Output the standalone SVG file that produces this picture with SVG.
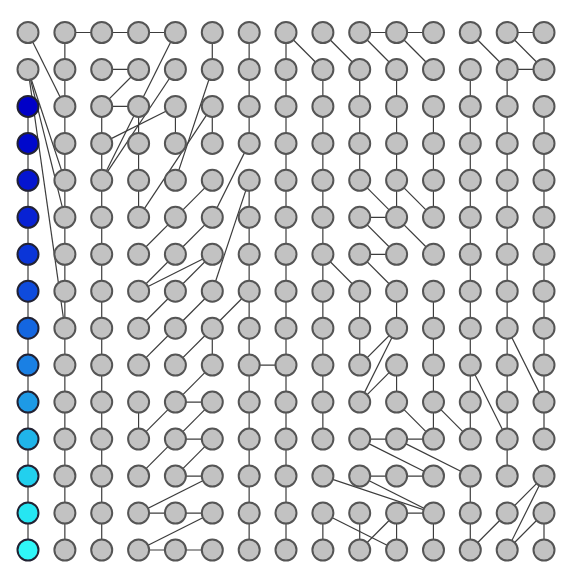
<svg xmlns="http://www.w3.org/2000/svg" width="564" height="569" viewBox="0 0 564 569">
<style>
.n circle{fill:#c2c2c2;stroke:#555;stroke-width:2}
#connectors line{stroke:#3c3c3c;stroke-width:1.2;vector-effect:non-scaling-stroke}
</style>
<rect width="564" height="569" fill="#fff"/>
<g id="connectors" transform="translate(28,32.5) scale(36.857,36.964)">
<line x1="0" y1="2" x2="0" y2="14"/>
<line x1="1" y1="0" x2="1" y2="14"/>
<line x1="2" y1="2" x2="2" y2="14"/>
<line x1="3" y1="2" x2="3" y2="5"/>
<line x1="3" y1="10" x2="3" y2="11"/>
<line x1="4" y1="2" x2="4" y2="3"/>
<line x1="5" y1="0" x2="5" y2="1"/>
<line x1="5" y1="2" x2="5" y2="3"/>
<line x1="5" y1="8" x2="5" y2="9"/>
<line x1="6" y1="0" x2="6" y2="3"/>
<line x1="6" y1="4" x2="6" y2="14"/>
<line x1="7" y1="0" x2="7" y2="14"/>
<line x1="8" y1="1" x2="8" y2="11"/>
<line x1="8" y1="13" x2="8" y2="14"/>
<line x1="9" y1="1" x2="9" y2="4"/>
<line x1="9" y1="7" x2="9" y2="9"/>
<line x1="9" y1="13" x2="9" y2="14"/>
<line x1="10" y1="1" x2="10" y2="5"/>
<line x1="10" y1="7" x2="10" y2="8"/>
<line x1="10" y1="9" x2="10" y2="10"/>
<line x1="10" y1="13" x2="10" y2="14"/>
<line x1="11" y1="2" x2="11" y2="5"/>
<line x1="11" y1="7" x2="11" y2="11"/>
<line x1="11" y1="13" x2="11" y2="14"/>
<line x1="12" y1="1" x2="12" y2="11"/>
<line x1="12" y1="12" x2="12" y2="14"/>
<line x1="13" y1="1" x2="13" y2="12"/>
<line x1="14" y1="2" x2="14" y2="11"/>
<line x1="14" y1="13" x2="14" y2="14"/>
<line x1="1" y1="0" x2="4" y2="0"/>
<line x1="9" y1="0" x2="11" y2="0"/>
<line x1="13" y1="0" x2="14" y2="0"/>
<line x1="2" y1="1" x2="3" y2="1"/>
<line x1="13" y1="1" x2="14" y2="1"/>
<line x1="2" y1="2" x2="3" y2="2"/>
<line x1="9" y1="5" x2="10" y2="5"/>
<line x1="9" y1="6" x2="10" y2="6"/>
<line x1="6" y1="9" x2="7" y2="9"/>
<line x1="4" y1="10" x2="5" y2="10"/>
<line x1="4" y1="11" x2="5" y2="11"/>
<line x1="9" y1="11" x2="11" y2="11"/>
<line x1="4" y1="12" x2="5" y2="12"/>
<line x1="9" y1="12" x2="11" y2="12"/>
<line x1="3" y1="13" x2="5" y2="13"/>
<line x1="10" y1="13" x2="11" y2="13"/>
<line x1="3" y1="14" x2="5" y2="14"/>
<line x1="0" y1="0" x2="1" y2="2"/>
<line x1="0" y1="1" x2="1" y2="4"/>
<line x1="0" y1="1" x2="1" y2="5"/>
<line x1="0" y1="1" x2="1" y2="8"/>
<line x1="3" y1="1" x2="2" y2="2"/>
<line x1="4" y1="0" x2="3" y2="2"/>
<line x1="4" y1="1" x2="2" y2="4"/>
<line x1="3" y1="2" x2="2" y2="4"/>
<line x1="4" y1="2" x2="2" y2="3"/>
<line x1="5" y1="1" x2="4" y2="4"/>
<line x1="5" y1="2" x2="3" y2="5"/>
<line x1="7" y1="0" x2="8" y2="1"/>
<line x1="8" y1="0" x2="9" y2="1"/>
<line x1="9" y1="0" x2="10" y2="1"/>
<line x1="10" y1="0" x2="11" y2="1"/>
<line x1="12" y1="0" x2="13" y2="1"/>
<line x1="13" y1="0" x2="14" y2="1"/>
<line x1="9" y1="4" x2="10" y2="5"/>
<line x1="9" y1="5" x2="10" y2="6"/>
<line x1="9" y1="6" x2="10" y2="7"/>
<line x1="10" y1="4" x2="11" y2="5"/>
<line x1="10" y1="5" x2="11" y2="6"/>
<line x1="8" y1="6" x2="9" y2="7"/>
<line x1="10" y1="8" x2="9" y2="9"/>
<line x1="10" y1="8" x2="9" y2="10"/>
<line x1="10" y1="9" x2="9" y2="10"/>
<line x1="10" y1="10" x2="11" y2="11"/>
<line x1="11" y1="10" x2="12" y2="11"/>
<line x1="12" y1="9" x2="13" y2="11"/>
<line x1="13" y1="8" x2="14" y2="10"/>
<line x1="9" y1="11" x2="11" y2="12"/>
<line x1="10" y1="11" x2="12" y2="12"/>
<line x1="9" y1="12" x2="11" y2="13"/>
<line x1="8" y1="12" x2="11" y2="13"/>
<line x1="8" y1="13" x2="10" y2="14"/>
<line x1="10" y1="13" x2="9" y2="14"/>
<line x1="12" y1="14" x2="13" y2="13"/>
<line x1="13" y1="13" x2="14" y2="12"/>
<line x1="13" y1="14" x2="14" y2="12"/>
<line x1="13" y1="14" x2="14" y2="13"/>
<line x1="3" y1="12" x2="4" y2="11"/>
<line x1="4" y1="12" x2="5" y2="11"/>
<line x1="3" y1="13" x2="5" y2="12"/>
<line x1="3" y1="14" x2="5" y2="13"/>
<line x1="3" y1="11" x2="4" y2="10"/>
<line x1="4" y1="11" x2="5" y2="10"/>
<line x1="4" y1="10" x2="5" y2="9"/>
<line x1="4" y1="9" x2="5" y2="8"/>
<line x1="4" y1="8" x2="5" y2="7"/>
<line x1="6" y1="7" x2="5" y2="8"/>
<line x1="3" y1="8" x2="4" y2="7"/>
<line x1="3" y1="9" x2="4" y2="8"/>
<line x1="3" y1="6" x2="4" y2="5"/>
<line x1="3" y1="7" x2="4" y2="6"/>
<line x1="6" y1="3" x2="5" y2="5"/>
<line x1="6" y1="4" x2="5" y2="7"/>
<line x1="5" y1="4" x2="4" y2="5"/>
<line x1="5" y1="5" x2="4" y2="6"/>
<line x1="5" y1="6" x2="4" y2="7"/>
<line x1="3" y1="7" x2="5" y2="6"/>
</g>
<g class="n">
<g id="r0c0"><circle cx="28" cy="32.5" r="10.5"/></g>
<g id="r0c1"><circle cx="64.9" cy="32.5" r="10.5"/></g>
<g id="r0c2"><circle cx="101.7" cy="32.5" r="10.5"/></g>
<g id="r0c3"><circle cx="138.6" cy="32.5" r="10.5"/></g>
<g id="r0c4"><circle cx="175.4" cy="32.5" r="10.5"/></g>
<g id="r0c5"><circle cx="212.3" cy="32.5" r="10.5"/></g>
<g id="r0c6"><circle cx="249.2" cy="32.5" r="10.5"/></g>
<g id="r0c7"><circle cx="286" cy="32.5" r="10.5"/></g>
<g id="r0c8"><circle cx="322.9" cy="32.5" r="10.5"/></g>
<g id="r0c9"><circle cx="359.7" cy="32.5" r="10.5"/></g>
<g id="r0c10"><circle cx="396.6" cy="32.5" r="10.5"/></g>
<g id="r0c11"><circle cx="433.5" cy="32.5" r="10.5"/></g>
<g id="r0c12"><circle cx="470.3" cy="32.5" r="10.5"/></g>
<g id="r0c13"><circle cx="507.2" cy="32.5" r="10.5"/></g>
<g id="r0c14"><circle cx="544" cy="32.5" r="10.5"/></g>
<g id="r1c0"><circle cx="28" cy="69.5" r="10.5"/></g>
<g id="r1c1"><circle cx="64.9" cy="69.5" r="10.5"/></g>
<g id="r1c2"><circle cx="101.7" cy="69.5" r="10.5"/></g>
<g id="r1c3"><circle cx="138.6" cy="69.5" r="10.5"/></g>
<g id="r1c4"><circle cx="175.4" cy="69.5" r="10.5"/></g>
<g id="r1c5"><circle cx="212.3" cy="69.5" r="10.5"/></g>
<g id="r1c6"><circle cx="249.2" cy="69.5" r="10.5"/></g>
<g id="r1c7"><circle cx="286" cy="69.5" r="10.5"/></g>
<g id="r1c8"><circle cx="322.9" cy="69.5" r="10.5"/></g>
<g id="r1c9"><circle cx="359.7" cy="69.5" r="10.5"/></g>
<g id="r1c10"><circle cx="396.6" cy="69.5" r="10.5"/></g>
<g id="r1c11"><circle cx="433.5" cy="69.5" r="10.5"/></g>
<g id="r1c12"><circle cx="470.3" cy="69.5" r="10.5"/></g>
<g id="r1c13"><circle cx="507.2" cy="69.5" r="10.5"/></g>
<g id="r1c14"><circle cx="544" cy="69.5" r="10.5"/></g>
<g id="r2c0"><circle cx="28" cy="106.4" r="10.5" style="fill:#0000c8;stroke:#223"/></g>
<g id="r2c1"><circle cx="64.9" cy="106.4" r="10.5"/></g>
<g id="r2c2"><circle cx="101.7" cy="106.4" r="10.5"/></g>
<g id="r2c3"><circle cx="138.6" cy="106.4" r="10.5"/></g>
<g id="r2c4"><circle cx="175.4" cy="106.4" r="10.5"/></g>
<g id="r2c5"><circle cx="212.3" cy="106.4" r="10.5"/></g>
<g id="r2c6"><circle cx="249.2" cy="106.4" r="10.5"/></g>
<g id="r2c7"><circle cx="286" cy="106.4" r="10.5"/></g>
<g id="r2c8"><circle cx="322.9" cy="106.4" r="10.5"/></g>
<g id="r2c9"><circle cx="359.7" cy="106.4" r="10.5"/></g>
<g id="r2c10"><circle cx="396.6" cy="106.4" r="10.5"/></g>
<g id="r2c11"><circle cx="433.5" cy="106.4" r="10.5"/></g>
<g id="r2c12"><circle cx="470.3" cy="106.4" r="10.5"/></g>
<g id="r2c13"><circle cx="507.2" cy="106.4" r="10.5"/></g>
<g id="r2c14"><circle cx="544" cy="106.4" r="10.5"/></g>
<g id="r3c0"><circle cx="28" cy="143.4" r="10.5" style="fill:#0008cc;stroke:#223"/></g>
<g id="r3c1"><circle cx="64.9" cy="143.4" r="10.5"/></g>
<g id="r3c2"><circle cx="101.7" cy="143.4" r="10.5"/></g>
<g id="r3c3"><circle cx="138.6" cy="143.4" r="10.5"/></g>
<g id="r3c4"><circle cx="175.4" cy="143.4" r="10.5"/></g>
<g id="r3c5"><circle cx="212.3" cy="143.4" r="10.5"/></g>
<g id="r3c6"><circle cx="249.2" cy="143.4" r="10.5"/></g>
<g id="r3c7"><circle cx="286" cy="143.4" r="10.5"/></g>
<g id="r3c8"><circle cx="322.9" cy="143.4" r="10.5"/></g>
<g id="r3c9"><circle cx="359.7" cy="143.4" r="10.5"/></g>
<g id="r3c10"><circle cx="396.6" cy="143.4" r="10.5"/></g>
<g id="r3c11"><circle cx="433.5" cy="143.4" r="10.5"/></g>
<g id="r3c12"><circle cx="470.3" cy="143.4" r="10.5"/></g>
<g id="r3c13"><circle cx="507.2" cy="143.4" r="10.5"/></g>
<g id="r3c14"><circle cx="544" cy="143.4" r="10.5"/></g>
<g id="r4c0"><circle cx="28" cy="180.3" r="10.5" style="fill:#0515d0;stroke:#223"/></g>
<g id="r4c1"><circle cx="64.9" cy="180.3" r="10.5"/></g>
<g id="r4c2"><circle cx="101.7" cy="180.3" r="10.5"/></g>
<g id="r4c3"><circle cx="138.6" cy="180.3" r="10.5"/></g>
<g id="r4c4"><circle cx="175.4" cy="180.3" r="10.5"/></g>
<g id="r4c5"><circle cx="212.3" cy="180.3" r="10.5"/></g>
<g id="r4c6"><circle cx="249.2" cy="180.3" r="10.5"/></g>
<g id="r4c7"><circle cx="286" cy="180.3" r="10.5"/></g>
<g id="r4c8"><circle cx="322.9" cy="180.3" r="10.5"/></g>
<g id="r4c9"><circle cx="359.7" cy="180.3" r="10.5"/></g>
<g id="r4c10"><circle cx="396.6" cy="180.3" r="10.5"/></g>
<g id="r4c11"><circle cx="433.5" cy="180.3" r="10.5"/></g>
<g id="r4c12"><circle cx="470.3" cy="180.3" r="10.5"/></g>
<g id="r4c13"><circle cx="507.2" cy="180.3" r="10.5"/></g>
<g id="r4c14"><circle cx="544" cy="180.3" r="10.5"/></g>
<g id="r5c0"><circle cx="28" cy="217.3" r="10.5" style="fill:#0822d4;stroke:#223"/></g>
<g id="r5c1"><circle cx="64.9" cy="217.3" r="10.5"/></g>
<g id="r5c2"><circle cx="101.7" cy="217.3" r="10.5"/></g>
<g id="r5c3"><circle cx="138.6" cy="217.3" r="10.5"/></g>
<g id="r5c4"><circle cx="175.4" cy="217.3" r="10.5"/></g>
<g id="r5c5"><circle cx="212.3" cy="217.3" r="10.5"/></g>
<g id="r5c6"><circle cx="249.2" cy="217.3" r="10.5"/></g>
<g id="r5c7"><circle cx="286" cy="217.3" r="10.5"/></g>
<g id="r5c8"><circle cx="322.9" cy="217.3" r="10.5"/></g>
<g id="r5c9"><circle cx="359.7" cy="217.3" r="10.5"/></g>
<g id="r5c10"><circle cx="396.6" cy="217.3" r="10.5"/></g>
<g id="r5c11"><circle cx="433.5" cy="217.3" r="10.5"/></g>
<g id="r5c12"><circle cx="470.3" cy="217.3" r="10.5"/></g>
<g id="r5c13"><circle cx="507.2" cy="217.3" r="10.5"/></g>
<g id="r5c14"><circle cx="544" cy="217.3" r="10.5"/></g>
<g id="r6c0"><circle cx="28" cy="254.3" r="10.5" style="fill:#0a35d8;stroke:#223"/></g>
<g id="r6c1"><circle cx="64.9" cy="254.3" r="10.5"/></g>
<g id="r6c2"><circle cx="101.7" cy="254.3" r="10.5"/></g>
<g id="r6c3"><circle cx="138.6" cy="254.3" r="10.5"/></g>
<g id="r6c4"><circle cx="175.4" cy="254.3" r="10.5"/></g>
<g id="r6c5"><circle cx="212.3" cy="254.3" r="10.5"/></g>
<g id="r6c6"><circle cx="249.2" cy="254.3" r="10.5"/></g>
<g id="r6c7"><circle cx="286" cy="254.3" r="10.5"/></g>
<g id="r6c8"><circle cx="322.9" cy="254.3" r="10.5"/></g>
<g id="r6c9"><circle cx="359.7" cy="254.3" r="10.5"/></g>
<g id="r6c10"><circle cx="396.6" cy="254.3" r="10.5"/></g>
<g id="r6c11"><circle cx="433.5" cy="254.3" r="10.5"/></g>
<g id="r6c12"><circle cx="470.3" cy="254.3" r="10.5"/></g>
<g id="r6c13"><circle cx="507.2" cy="254.3" r="10.5"/></g>
<g id="r6c14"><circle cx="544" cy="254.3" r="10.5"/></g>
<g id="r7c0"><circle cx="28" cy="291.2" r="10.5" style="fill:#0f4bdc;stroke:#223"/></g>
<g id="r7c1"><circle cx="64.9" cy="291.2" r="10.5"/></g>
<g id="r7c2"><circle cx="101.7" cy="291.2" r="10.5"/></g>
<g id="r7c3"><circle cx="138.6" cy="291.2" r="10.5"/></g>
<g id="r7c4"><circle cx="175.4" cy="291.2" r="10.5"/></g>
<g id="r7c5"><circle cx="212.3" cy="291.2" r="10.5"/></g>
<g id="r7c6"><circle cx="249.2" cy="291.2" r="10.5"/></g>
<g id="r7c7"><circle cx="286" cy="291.2" r="10.5"/></g>
<g id="r7c8"><circle cx="322.9" cy="291.2" r="10.5"/></g>
<g id="r7c9"><circle cx="359.7" cy="291.2" r="10.5"/></g>
<g id="r7c10"><circle cx="396.6" cy="291.2" r="10.5"/></g>
<g id="r7c11"><circle cx="433.5" cy="291.2" r="10.5"/></g>
<g id="r7c12"><circle cx="470.3" cy="291.2" r="10.5"/></g>
<g id="r7c13"><circle cx="507.2" cy="291.2" r="10.5"/></g>
<g id="r7c14"><circle cx="544" cy="291.2" r="10.5"/></g>
<g id="r8c0"><circle cx="28" cy="328.2" r="10.5" style="fill:#1466e0;stroke:#223"/></g>
<g id="r8c1"><circle cx="64.9" cy="328.2" r="10.5"/></g>
<g id="r8c2"><circle cx="101.7" cy="328.2" r="10.5"/></g>
<g id="r8c3"><circle cx="138.6" cy="328.2" r="10.5"/></g>
<g id="r8c4"><circle cx="175.4" cy="328.2" r="10.5"/></g>
<g id="r8c5"><circle cx="212.3" cy="328.2" r="10.5"/></g>
<g id="r8c6"><circle cx="249.2" cy="328.2" r="10.5"/></g>
<g id="r8c7"><circle cx="286" cy="328.2" r="10.5"/></g>
<g id="r8c8"><circle cx="322.9" cy="328.2" r="10.5"/></g>
<g id="r8c9"><circle cx="359.7" cy="328.2" r="10.5"/></g>
<g id="r8c10"><circle cx="396.6" cy="328.2" r="10.5"/></g>
<g id="r8c11"><circle cx="433.5" cy="328.2" r="10.5"/></g>
<g id="r8c12"><circle cx="470.3" cy="328.2" r="10.5"/></g>
<g id="r8c13"><circle cx="507.2" cy="328.2" r="10.5"/></g>
<g id="r8c14"><circle cx="544" cy="328.2" r="10.5"/></g>
<g id="r9c0"><circle cx="28" cy="365.1" r="10.5" style="fill:#1a80e4;stroke:#223"/></g>
<g id="r9c1"><circle cx="64.9" cy="365.1" r="10.5"/></g>
<g id="r9c2"><circle cx="101.7" cy="365.1" r="10.5"/></g>
<g id="r9c3"><circle cx="138.6" cy="365.1" r="10.5"/></g>
<g id="r9c4"><circle cx="175.4" cy="365.1" r="10.5"/></g>
<g id="r9c5"><circle cx="212.3" cy="365.1" r="10.5"/></g>
<g id="r9c6"><circle cx="249.2" cy="365.1" r="10.5"/></g>
<g id="r9c7"><circle cx="286" cy="365.1" r="10.5"/></g>
<g id="r9c8"><circle cx="322.9" cy="365.1" r="10.5"/></g>
<g id="r9c9"><circle cx="359.7" cy="365.1" r="10.5"/></g>
<g id="r9c10"><circle cx="396.6" cy="365.1" r="10.5"/></g>
<g id="r9c11"><circle cx="433.5" cy="365.1" r="10.5"/></g>
<g id="r9c12"><circle cx="470.3" cy="365.1" r="10.5"/></g>
<g id="r9c13"><circle cx="507.2" cy="365.1" r="10.5"/></g>
<g id="r9c14"><circle cx="544" cy="365.1" r="10.5"/></g>
<g id="r10c0"><circle cx="28" cy="402.1" r="10.5" style="fill:#1e9ae6;stroke:#223"/></g>
<g id="r10c1"><circle cx="64.9" cy="402.1" r="10.5"/></g>
<g id="r10c2"><circle cx="101.7" cy="402.1" r="10.5"/></g>
<g id="r10c3"><circle cx="138.6" cy="402.1" r="10.5"/></g>
<g id="r10c4"><circle cx="175.4" cy="402.1" r="10.5"/></g>
<g id="r10c5"><circle cx="212.3" cy="402.1" r="10.5"/></g>
<g id="r10c6"><circle cx="249.2" cy="402.1" r="10.5"/></g>
<g id="r10c7"><circle cx="286" cy="402.1" r="10.5"/></g>
<g id="r10c8"><circle cx="322.9" cy="402.1" r="10.5"/></g>
<g id="r10c9"><circle cx="359.7" cy="402.1" r="10.5"/></g>
<g id="r10c10"><circle cx="396.6" cy="402.1" r="10.5"/></g>
<g id="r10c11"><circle cx="433.5" cy="402.1" r="10.5"/></g>
<g id="r10c12"><circle cx="470.3" cy="402.1" r="10.5"/></g>
<g id="r10c13"><circle cx="507.2" cy="402.1" r="10.5"/></g>
<g id="r10c14"><circle cx="544" cy="402.1" r="10.5"/></g>
<g id="r11c0"><circle cx="28" cy="439.1" r="10.5" style="fill:#20b4ea;stroke:#223"/></g>
<g id="r11c1"><circle cx="64.9" cy="439.1" r="10.5"/></g>
<g id="r11c2"><circle cx="101.7" cy="439.1" r="10.5"/></g>
<g id="r11c3"><circle cx="138.6" cy="439.1" r="10.5"/></g>
<g id="r11c4"><circle cx="175.4" cy="439.1" r="10.5"/></g>
<g id="r11c5"><circle cx="212.3" cy="439.1" r="10.5"/></g>
<g id="r11c6"><circle cx="249.2" cy="439.1" r="10.5"/></g>
<g id="r11c7"><circle cx="286" cy="439.1" r="10.5"/></g>
<g id="r11c8"><circle cx="322.9" cy="439.1" r="10.5"/></g>
<g id="r11c9"><circle cx="359.7" cy="439.1" r="10.5"/></g>
<g id="r11c10"><circle cx="396.6" cy="439.1" r="10.5"/></g>
<g id="r11c11"><circle cx="433.5" cy="439.1" r="10.5"/></g>
<g id="r11c12"><circle cx="470.3" cy="439.1" r="10.5"/></g>
<g id="r11c13"><circle cx="507.2" cy="439.1" r="10.5"/></g>
<g id="r11c14"><circle cx="544" cy="439.1" r="10.5"/></g>
<g id="r12c0"><circle cx="28" cy="476" r="10.5" style="fill:#22d0ee;stroke:#223"/></g>
<g id="r12c1"><circle cx="64.9" cy="476" r="10.5"/></g>
<g id="r12c2"><circle cx="101.7" cy="476" r="10.5"/></g>
<g id="r12c3"><circle cx="138.6" cy="476" r="10.5"/></g>
<g id="r12c4"><circle cx="175.4" cy="476" r="10.5"/></g>
<g id="r12c5"><circle cx="212.3" cy="476" r="10.5"/></g>
<g id="r12c6"><circle cx="249.2" cy="476" r="10.5"/></g>
<g id="r12c7"><circle cx="286" cy="476" r="10.5"/></g>
<g id="r12c8"><circle cx="322.9" cy="476" r="10.5"/></g>
<g id="r12c9"><circle cx="359.7" cy="476" r="10.5"/></g>
<g id="r12c10"><circle cx="396.6" cy="476" r="10.5"/></g>
<g id="r12c11"><circle cx="433.5" cy="476" r="10.5"/></g>
<g id="r12c12"><circle cx="470.3" cy="476" r="10.5"/></g>
<g id="r12c13"><circle cx="507.2" cy="476" r="10.5"/></g>
<g id="r12c14"><circle cx="544" cy="476" r="10.5"/></g>
<g id="r13c0"><circle cx="28" cy="513" r="10.5" style="fill:#26e6f2;stroke:#223"/></g>
<g id="r13c1"><circle cx="64.9" cy="513" r="10.5"/></g>
<g id="r13c2"><circle cx="101.7" cy="513" r="10.5"/></g>
<g id="r13c3"><circle cx="138.6" cy="513" r="10.5"/></g>
<g id="r13c4"><circle cx="175.4" cy="513" r="10.5"/></g>
<g id="r13c5"><circle cx="212.3" cy="513" r="10.5"/></g>
<g id="r13c6"><circle cx="249.2" cy="513" r="10.5"/></g>
<g id="r13c7"><circle cx="286" cy="513" r="10.5"/></g>
<g id="r13c8"><circle cx="322.9" cy="513" r="10.5"/></g>
<g id="r13c9"><circle cx="359.7" cy="513" r="10.5"/></g>
<g id="r13c10"><circle cx="396.6" cy="513" r="10.5"/></g>
<g id="r13c11"><circle cx="433.5" cy="513" r="10.5"/></g>
<g id="r13c12"><circle cx="470.3" cy="513" r="10.5"/></g>
<g id="r13c13"><circle cx="507.2" cy="513" r="10.5"/></g>
<g id="r13c14"><circle cx="544" cy="513" r="10.5"/></g>
<g id="r14c0"><circle cx="28" cy="550" r="10.5" style="fill:#30f6f8;stroke:#223"/></g>
<g id="r14c1"><circle cx="64.9" cy="550" r="10.5"/></g>
<g id="r14c2"><circle cx="101.7" cy="550" r="10.5"/></g>
<g id="r14c3"><circle cx="138.6" cy="550" r="10.5"/></g>
<g id="r14c4"><circle cx="175.4" cy="550" r="10.5"/></g>
<g id="r14c5"><circle cx="212.3" cy="550" r="10.5"/></g>
<g id="r14c6"><circle cx="249.2" cy="550" r="10.5"/></g>
<g id="r14c7"><circle cx="286" cy="550" r="10.5"/></g>
<g id="r14c8"><circle cx="322.9" cy="550" r="10.5"/></g>
<g id="r14c9"><circle cx="359.7" cy="550" r="10.5"/></g>
<g id="r14c10"><circle cx="396.6" cy="550" r="10.5"/></g>
<g id="r14c11"><circle cx="433.5" cy="550" r="10.5"/></g>
<g id="r14c12"><circle cx="470.3" cy="550" r="10.5"/></g>
<g id="r14c13"><circle cx="507.2" cy="550" r="10.5"/></g>
<g id="r14c14"><circle cx="544" cy="550" r="10.5"/></g>
</g>
</svg>
